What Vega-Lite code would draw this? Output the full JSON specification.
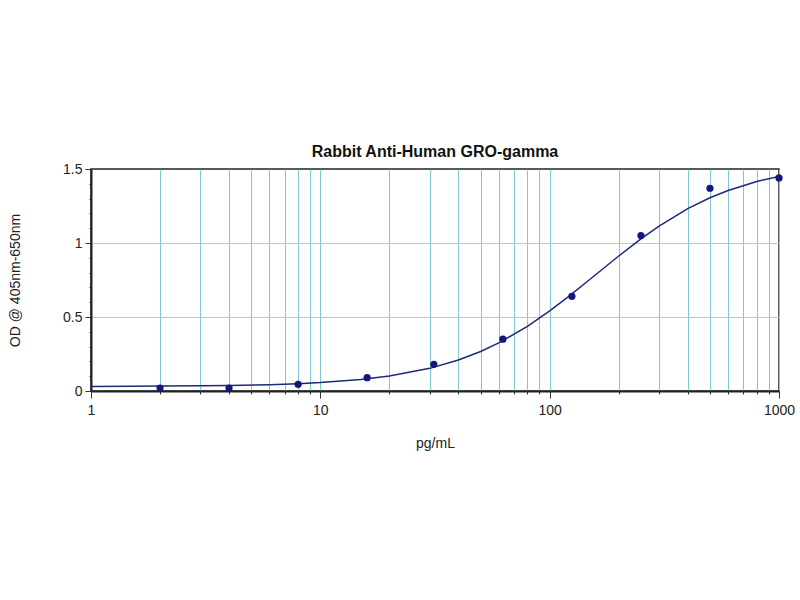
{
  "$schema": "https://vega.github.io/schema/vega-lite/v6.json",
  "autosize": {"type": "none"},
  "width": 688,
  "height": 222,
  "padding": {"left": 91, "top": 169, "right": 21, "bottom": 209},
  "background": "white",
  "config": {
    "font": "Liberation Sans",
    "view": {"stroke": "#222222", "strokeWidth": 1.5}
  },
  "title": {
    "text": "Rabbit Anti-Human GRO-gamma",
    "fontSize": 16,
    "fontWeight": "bold",
    "font": "Liberation Sans",
    "color": "#111111",
    "offset": 2
  },
  "datasets": {
    "points": [
      {"conc": 2, "od": 0.02},
      {"conc": 4, "od": 0.02},
      {"conc": 8, "od": 0.045},
      {"conc": 16, "od": 0.09},
      {"conc": 31.25, "od": 0.18},
      {"conc": 62.5, "od": 0.35},
      {"conc": 125, "od": 0.64},
      {"conc": 250, "od": 1.05},
      {"conc": 500, "od": 1.37},
      {"conc": 1000, "od": 1.44}
    ],
    "curve": [
      {"conc": 1, "od": 0.031},
      {"conc": 1.5, "od": 0.032},
      {"conc": 2, "od": 0.033},
      {"conc": 3, "od": 0.035},
      {"conc": 4, "od": 0.037},
      {"conc": 6, "od": 0.043},
      {"conc": 8, "od": 0.0495},
      {"conc": 10, "od": 0.057},
      {"conc": 15, "od": 0.078},
      {"conc": 20, "od": 0.101},
      {"conc": 30, "od": 0.153},
      {"conc": 40, "od": 0.21},
      {"conc": 50, "od": 0.267},
      {"conc": 60, "od": 0.325},
      {"conc": 80, "od": 0.437},
      {"conc": 100, "od": 0.541},
      {"conc": 120, "od": 0.634},
      {"conc": 150, "od": 0.755},
      {"conc": 200, "od": 0.912},
      {"conc": 250, "od": 1.028},
      {"conc": 300, "od": 1.114},
      {"conc": 400, "od": 1.232},
      {"conc": 500, "od": 1.306},
      {"conc": 600, "od": 1.355},
      {"conc": 800, "od": 1.416},
      {"conc": 1000, "od": 1.45}
    ]
  },
  "encoding": {
    "x": {
      "field": "conc",
      "type": "quantitative",
      "scale": {"type": "log", "domain": [1, 1000], "nice": false},
      "axis": {
        "title": "pg/mL",
        "titleFontSize": 14,
        "titleFontWeight": "normal",
        "titleColor": "#222222",
        "titlePadding": 19,
        "values": [1,2,3,4,5,6,7,8,9,10,20,30,40,50,60,70,80,90,100,200,300,400,500,600,700,800,900,1000],
        "labelExpr": "abs(log(datum.value)/log(10) - round(log(datum.value)/log(10))) < 0.000001 ? format(datum.value, 'd') : ''",
        "labelFontSize": 14,
        "labelColor": "#222222",
        "labelPadding": 5,
        "labelFlush": false,
        "labelOverlap": false,
        "grid": true,
        "gridColor": "#84c9d2",
        "gridWidth": 1,
        "domainColor": "#222222",
        "domainWidth": 2,
        "tickColor": "#333333",
        "tickSize": {"condition": {"test": "abs(log(datum.value)/log(10) - round(log(datum.value)/log(10))) < 0.000001", "value": 7}, "value": 3},
        "tickWidth": 1
      }
    },
    "y": {
      "field": "od",
      "type": "quantitative",
      "scale": {"domain": [0, 1.5], "nice": false, "zero": false},
      "axis": {
        "title": "OD @ 405nm-650nm",
        "titleFontSize": 14,
        "titleFontWeight": "normal",
        "titleColor": "#222222",
        "titlePadding": 40,
        "values": [0,0.1,0.2,0.3,0.4,0.5,0.6,0.7,0.8,0.9,1,1.1,1.2,1.3,1.4,1.5],
        "labelExpr": "abs(datum.value*2 - round(datum.value*2)) < 0.000001 ? format(datum.value, '~g') : ''",
        "labelFontSize": 14,
        "labelColor": "#222222",
        "labelPadding": 3,
        "labelFlush": false,
        "labelOverlap": false,
        "grid": true,
        "gridColor": "#9fd3d6",
        "gridOpacity": {"condition": {"test": "abs(datum.value*2 - round(datum.value*2)) < 0.000001 && datum.value > 0.1 && datum.value < 1.4", "value": 1}, "value": 0},
        "domainColor": "#222222",
        "domainWidth": 2,
        "tickColor": "#333333",
        "tickSize": {"condition": {"test": "abs(datum.value*2 - round(datum.value*2)) < 0.000001", "value": 6}, "value": 2},
        "tickWidth": 1
      }
    }
  },
  "layer": [
    {
      "data": {"name": "curve"},
      "mark": {"type": "line", "color": "#1c2a78", "strokeWidth": 1.5, "clip": true}
    },
    {
      "data": {"name": "points"},
      "mark": {"type": "circle", "color": "#14167e", "opacity": 1, "size": 52, "clip": false}
    }
  ]
}
